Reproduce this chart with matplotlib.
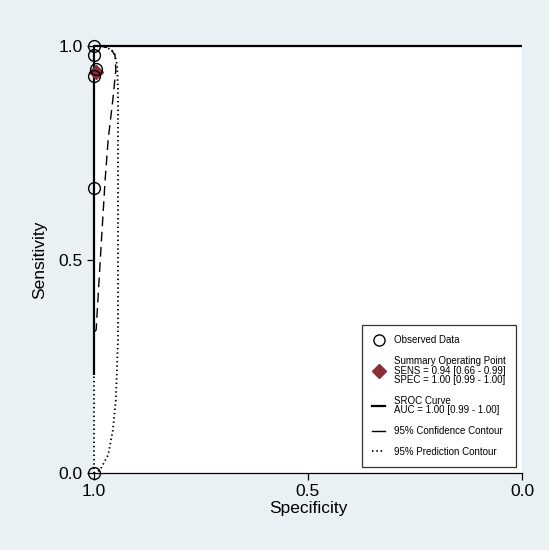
import matplotlib.pyplot as plt
import numpy as np
from matplotlib.lines import Line2D

plt.rcParams['font.family'] = ['Liberation Sans', 'DejaVu Sans']

# observed studies (specificity, sensitivity)
obs_spec = [1.00, 1.00, 0.995, 1.00, 1.00, 1.00]
obs_sens = [1.00, 0.98, 0.945, 0.93, 0.667, 0.00]

# summary operating point
sum_spec = 0.995
sum_sens = 0.94

# SROC curve
sroc_spec = [1.00, 1.00, 0.00]
sroc_sens = [0.23, 1.00, 1.00]

# 95% confidence contour
conf_spec = [1.000, 0.995, 0.984, 0.974, 0.967, 0.956, 0.949, 0.951, 0.963, 0.986, 1.000, 1.000]
conf_sens = [0.330, 0.335, 0.522, 0.686, 0.780, 0.874, 0.944, 0.979, 0.995, 1.000, 1.000, 0.330]

# 95% prediction contour
pred_spec = [1.000, 0.986, 0.967, 0.956, 0.949, 0.944, 0.944, 0.944, 0.946, 0.953, 0.972, 0.991, 1.000, 1.000]
pred_sens = [0.000, 0.007, 0.042, 0.100, 0.171, 0.311, 0.639, 0.897, 0.955, 0.986, 0.998, 1.000, 1.000, 0.000]

bg = '#EAF1F4'
maroon = '#8C2D36'

fig = plt.figure(figsize=(5.49, 5.50), dpi=100, facecolor=bg)
ax = fig.add_axes([94/549, 1-473/550, 428/549, 427/550])
ax.set_facecolor('white')

ax.plot(pred_spec, pred_sens, color='black', lw=1.3, linestyle=(0, (0.8, 1.6)), clip_on=False)
ax.plot(conf_spec, conf_sens, color='black', lw=1.0, linestyle=(0, (7, 4)), clip_on=False)
ax.plot(sroc_spec, sroc_sens, color='black', lw=1.6, clip_on=False, solid_capstyle='butt')
ax.plot(obs_spec, obs_sens, 'o', mfc='none', mec='black', mew=1.0, ms=8.5, clip_on=False, zorder=5)
ax.plot(sum_spec, sum_sens, 'D', color=maroon, ms=7, clip_on=False, zorder=4)

ax.set_xlim(1, 0)
ax.set_ylim(0, 1)
for s in ['top', 'right', 'left']:
    ax.spines[s].set_visible(False)
ax.spines['bottom'].set_linewidth(0.9)

ax.set_xticks([1.0, 0.5, 0.0])
ax.set_xticklabels(['1.0', '0.5', '0.0'])
ax.set_yticks([0.0, 0.5, 1.0])
ax.set_yticklabels(['0.0', '0.5', '1.0'])
ax.tick_params(axis='both', labelsize=12.5, length=5, width=0.9, pad=3)
ax.set_xlabel('Specificity', fontsize=12.5, labelpad=1)
ax.set_ylabel('Sensitivity', fontsize=12.5, labelpad=8)

handles = [
    Line2D([], [], marker='o', mfc='none', mec='black', ms=8, ls='none'),
    Line2D([], [], marker='D', color=maroon, ms=7, ls='none'),
    Line2D([], [], color='black', lw=1.6),
    Line2D([], [], color='black', lw=1.0),
    Line2D([], [], color='black', lw=1.3, linestyle=(0, (0.8, 1.6))),
]
labels = [
    'Observed Data',
    'Summary Operating Point\nSENS = 0.94 [0.66 - 0.99]\nSPEC = 1.00 [0.99 - 1.00]',
    'SROC Curve\nAUC = 1.00 [0.99 - 1.00]',
    '95% Confidence Contour',
    '95% Prediction Contour',
]
leg = fig.legend(handles, labels, loc='upper left', bbox_to_anchor=(362/549, 1-325/550),
                 fontsize=7, frameon=True, fancybox=False, edgecolor='black',
                 handlelength=1.3, handletextpad=0.9, labelspacing=1.1,
                 borderpad=1.05, borderaxespad=0)
leg.get_frame().set_linewidth(0.9)
for t in leg.get_texts():
    t.set_linespacing(0.95)

fig.savefig('out.png', dpi=100, facecolor=bg)
